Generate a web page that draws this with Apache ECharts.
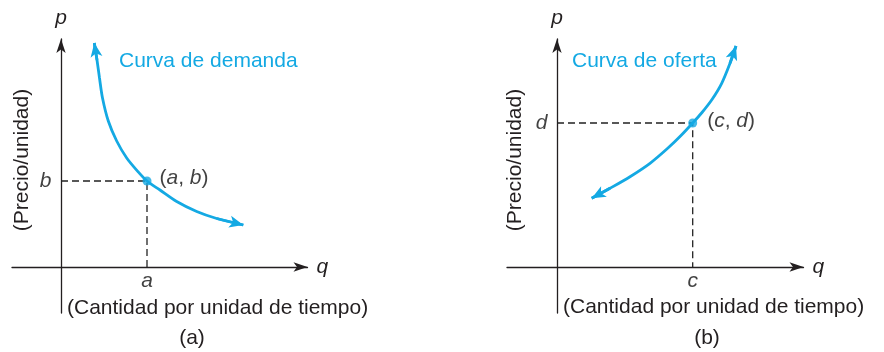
<!DOCTYPE html>
<html><head><meta charset="utf-8">
<script src="https://cdn.jsdelivr.net/npm/echarts@6/dist/echarts.min.js"></script>
<style>html,body{margin:0;padding:0;background:#fff}#c{width:884px;height:352px}</style>
</head><body><div id="c"></div>
<script>
// ---- data (units: 1 = 10 px, origin at axes crossing) ----
const demandCurve = [[3.33,22.4],[3.6,20.7],[3.85,18.9],[4.15,16.9],[4.73,14.6],[5.57,12.6],[6.57,10.9],[7.73,9.5],[8.6,8.6],[9.9,7.7],[11.57,6.55],[13.57,5.55],[15.57,4.85],[18.23,4.2]];
const demandPoint = [8.6, 8.6];
const demandTicks = ['a', 'b'];
const supplyCurve = [[3.47,6.87],[5.3,7.87],[7.3,9.03],[9.3,10.37],[11.1,11.9],[12.4,13.15],[13.57,14.4],[14.5,15.45],[15.5,16.75],[16.47,18.37],[17.3,20.37],[17.9,22.1]];
const supplyPoint = [13.57, 14.4];
const supplyTicks = ['c', 'd'];
const axisNames = ['q', 'p'];
const curveTitles = ['Curva de demanda', 'Curva de oferta'];
const yTitle = '(Precio/unidad)';
const xTitle = '(Cantidad por unidad de tiempo)';
const panelTags = ['(a)', '(b)'];

// ---- style ----
const INK = '#231f20', BLUE = '#14a9e3', FF = '"Liberation Sans", Arial, Helvetica, sans-serif', FS = 21;

function axisBase(gi, min, max, name, nameGap, nameStyle) {
  return {type:'value', gridIndex:gi, min, max, name, nameLocation:'end', nameGap,
    nameTextStyle:Object.assign({fontStyle:'italic', fontSize:FS, color:INK, fontFamily:FF}, nameStyle||{}),
    axisLine:{onZero:true, lineStyle:{color:INK, width:1.3}, symbol:['none','arrow'], symbolSize:[7,14]},
    axisTick:{show:false}, splitLine:{show:false}, axisLabel:{show:false}};
}
function panelSeries(gi, curve, pt, ticks, labOffset, labDist) {
  const n = curve.length;
  const tickLab = {fontStyle:'italic', fontSize:FS, fontFamily:FF, color:'#111'};
  return [
    {type:'line', xAxisIndex:gi, yAxisIndex:gi, data:[[0,pt[1]],[pt[0],pt[1]],[pt[0],0]], symbol:'none', silent:true,
      lineStyle:{color:'#222', width:1.3, type:[7,4]}, z:2},
    {type:'line', xAxisIndex:gi, yAxisIndex:gi, data:curve, smooth:0.3, symbol:'none',
      lineStyle:{color:BLUE, width:2.8}, z:3},
    {type:'lines', coordinateSystem:'cartesian2d', xAxisIndex:gi, yAxisIndex:gi, z:3,
      symbol:['none','arrow'], symbolSize:[[9,14],[9,14]],
      lineStyle:{color:BLUE, width:2.8, opacity:1},
      data:[{coords:[curve[1], curve[0]]}, {coords:[curve[n-2], curve[n-1]]}]},
    {type:'scatter', xAxisIndex:gi, yAxisIndex:gi, symbolSize:1, itemStyle:{color:'rgba(0,0,0,0)'}, silent:true, z:2,
      data:[
        {value:[pt[0],0], label:Object.assign({show:true, position:'bottom', distance:3, formatter:ticks[0]}, tickLab)},
        {value:[0,pt[1]], label:Object.assign({show:true, position:'left', distance:9, formatter:ticks[1]}, tickLab)}
      ]},
    {type:'scatter', xAxisIndex:gi, yAxisIndex:gi, data:[pt], symbolSize:9, itemStyle:{color:BLUE}, z:4,
      label:{show:true, position:'right', distance:labDist, offset:labOffset, color:'#111', fontSize:FS, fontFamily:FF,
        formatter:'({i|' + ticks[0] + '}, {i|' + ticks[1] + '})',
        rich:{i:{fontStyle:'italic', fontSize:FS, fontFamily:FF, color:'#111'}}}}
  ];
}
function txt(x, y, s, opts) {
  return Object.assign({type:'text', x, y, style:{text:s, fill:(opts&&opts.fill)||INK, fontSize:FS, fontFamily:FF,
    align:(opts&&opts.align)||'left', verticalAlign:'middle'}}, opts&&opts.rot ? {rotation:opts.rot} : {});
}

const chart = echarts.init(document.getElementById('c'), null, {renderer:'canvas'});
chart.setOption({
  animation:false,
  backgroundColor:'#fff',
  grid:[{left:12, top:39, width:295.5, height:274, containLabel:false, outerBoundsMode:'none'},
        {left:507, top:39, width:296.5, height:274, containLabel:false, outerBoundsMode:'none'}],
  xAxis:[axisBase(0, -4.9, 24.65, axisNames[0], 9, {align:'left', verticalAlign:'middle'}),
         axisBase(1, -5.0, 24.65, axisNames[0], 9, {align:'left', verticalAlign:'middle'})],
  yAxis:[axisBase(0, -4.6, 22.8, axisNames[1], 10), axisBase(1, -4.6, 22.8, axisNames[1], 10)],
  series:[].concat(panelSeries(0, demandCurve, demandPoint, demandTicks, [0,-3], 8),
                   panelSeries(1, supplyCurve, supplyPoint, supplyTicks, [0,-2], 10)),
  graphic:[
    txt(119, 61, curveTitles[0], {fill:BLUE}),
    txt(572, 61, curveTitles[1], {fill:BLUE}),
    txt(22, 160, yTitle, {align:'center', rot:Math.PI/2}),
    txt(515, 160, yTitle, {align:'center', rot:Math.PI/2}),
    txt(67, 308, xTitle),
    txt(563, 307, xTitle),
    txt(192, 338, panelTags[0], {align:'center'}),
    txt(707, 338, panelTags[1], {align:'center'})
  ]
});
</script></body></html>
